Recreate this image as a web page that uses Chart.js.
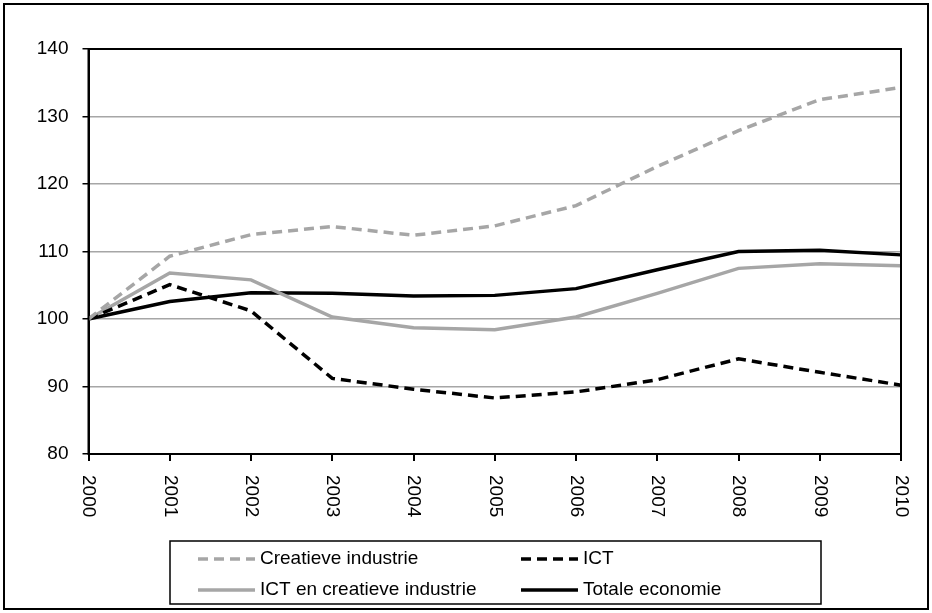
<!DOCTYPE html>
<html>
<head>
<meta charset="utf-8">
<script src="https://cdn.jsdelivr.net/npm/chart.js@4.4.1/dist/chart.umd.min.js"></script>
<style>
  body { margin: 0; background: #fff; }
  #wrap { width: 932px; height: 613px; }
</style>
</head>
<body>
<div id="wrap"><canvas id="indexChart"></canvas></div>
<script>
// Index 2000 = 100
const years = ['2000', '2001', '2002', '2003', '2004', '2005', '2006', '2007', '2008', '2009', '2010'];
const creatieveIndustrie = [100, 109.3, 112.5, 113.7, 112.4, 113.8, 116.8, 122.6, 127.9, 132.5, 134.3];
const ict = [100, 105.1, 101.2, 91.2, 89.6, 88.3, 89.2, 91.0, 94.1, 92.1, 90.2];
const ictEnCreatief = [100, 106.8, 105.8, 100.3, 98.7, 98.4, 100.3, 103.8, 107.5, 108.2, 107.9];
const totaleEconomie = [100, 102.6, 103.9, 103.8, 103.4, 103.5, 104.5, 107.3, 110.0, 110.2, 109.5];
const yTicks = [80, 90, 100, 110, 120, 130, 140];

const grey = '#a6a6a6';
const fontFamily = '"Liberation Sans", Arial, sans-serif';

// frame, plot border, rotated year labels and the boxed legend
const decorations = {
    id: 'decorations',
    beforeDraw(chart) {
        const ctx = chart.ctx;
        ctx.save();
        ctx.fillStyle = '#fff';
        ctx.fillRect(0, 0, chart.width, chart.height);
        ctx.restore();
    },
    afterDraw(chart) {
        const ctx = chart.ctx;
        const area = chart.chartArea;
        const xScale = chart.scales.x;
        ctx.save();

        // outer frame
        ctx.strokeStyle = '#000';
        ctx.lineWidth = 2;
        ctx.strokeRect(4, 4, 924, 605);

        // plot border
        ctx.strokeRect(area.left, area.top, area.right - area.left, area.bottom - area.top);

        // year labels, reading top to bottom
        ctx.fillStyle = '#000';
        ctx.font = '19px ' + fontFamily;
        ctx.textAlign = 'left';
        ctx.textBaseline = 'middle';
        years.forEach((y, i) => {
            const px = xScale.getPixelForValue(i);
            ctx.save();
            ctx.translate(px, area.bottom + 21);
            ctx.rotate(Math.PI / 2);
            ctx.fillText(y, 0, 0);
            ctx.restore();
        });

        // legend
        ctx.lineWidth = 1.5;
        ctx.strokeRect(170, 541, 651, 63);
        const cols = [198, 521];
        const rows = [559, 590];
        chart.data.datasets.forEach((ds, i) => {
            const x = cols[i % 2];
            const y = rows[Math.floor(i / 2)];
            ctx.beginPath();
            ctx.strokeStyle = ds.borderColor;
            ctx.lineWidth = 3.5;
            ctx.setLineDash(ds.borderDash || []);
            ctx.moveTo(x, y);
            ctx.lineTo(x + 57, y);
            ctx.stroke();
            ctx.setLineDash([]);
            ctx.fillStyle = '#000';
            ctx.fillText(ds.label, x + 62, y);
        });
        ctx.restore();
    }
};

new Chart(document.getElementById('indexChart'), {
    type: 'line',
    data: {
        labels: years,
        datasets: [
            { label: 'Creatieve industrie', data: creatieveIndustrie, borderColor: grey, borderDash: [10, 6], borderWidth: 3.5 },
            { label: 'ICT', data: ict, borderColor: '#000', borderDash: [10, 6], borderWidth: 3.5 },
            { label: 'ICT en creatieve industrie', data: ictEnCreatief, borderColor: grey, borderWidth: 3.5 },
            { label: 'Totale economie', data: totaleEconomie, borderColor: '#000', borderWidth: 3.5 }
        ]
    },
    options: {
        responsive: true,
        maintainAspectRatio: false,
        animation: false,
        layout: { padding: { top: 49, right: 31, left: 0, bottom: 0 } },
        elements: {
            point: { radius: 0 },
            line: { tension: 0, fill: false }
        },
        plugins: {
            legend: { display: false },
            tooltip: { enabled: false }
        },
        scales: {
            x: {
                afterFit(scale) { scale.height = 159; },
                grid: { drawOnChartArea: false, drawTicks: true, tickLength: 7, tickColor: '#000', lineWidth: 2 },
                border: { color: '#000', width: 2 },
                ticks: { display: false }
            },
            y: {
                min: 80,
                max: 140,
                afterFit(scale) { scale.width = 88.5; },
                afterBuildTicks(scale) { scale.ticks = yTicks.map(v => ({ value: v })); },
                grid: { color: grey, lineWidth: 1.5, tickLength: 6, tickColor: '#000' },
                border: { color: '#000', width: 2 },
                ticks: {
                    color: '#000',
                    padding: 14,
                    font: { size: 19, family: fontFamily }
                }
            }
        }
    },
    plugins: [decorations]
});
</script>
</body>
</html>
